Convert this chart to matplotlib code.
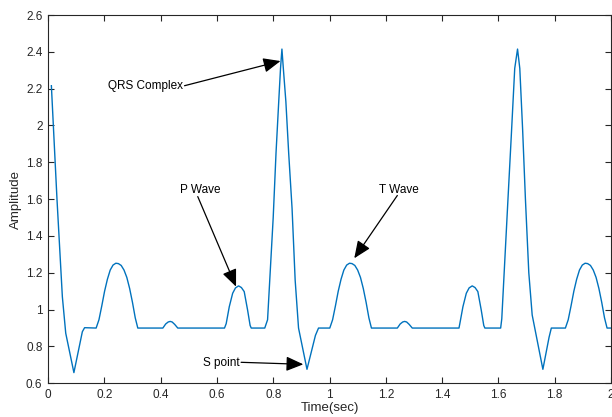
#!/usr/bin/env python3
import matplotlib
matplotlib.use("Agg")
import matplotlib.pyplot as plt

# ECG trace (time in sec, amplitude)
time = [
    0.012, 0.032, 0.051, 0.063, 0.092, 0.122, 0.130, 0.171,
    0.181, 0.191, 0.201, 0.211, 0.221, 0.231, 0.241, 0.250, 0.260, 0.270,
    0.280, 0.290, 0.300, 0.310, 0.319,
    0.408, 0.418, 0.427, 0.434, 0.441, 0.450, 0.461,
    0.627, 0.633, 0.644, 0.656, 0.666, 0.677, 0.687, 0.697, 0.709, 0.718, 0.722,
    0.770, 0.780, 0.800, 0.810, 0.820, 0.826, 0.831, 0.836, 0.845, 0.855,
    0.867, 0.878, 0.890, 0.920, 0.950, 0.961, 1.001,
    1.011, 1.021, 1.031, 1.041, 1.051, 1.061, 1.071, 1.080, 1.090, 1.100,
    1.110, 1.120, 1.130, 1.140, 1.149,
    1.241, 1.251, 1.260, 1.267, 1.274, 1.283, 1.294,
    1.460, 1.463, 1.474, 1.486, 1.496, 1.507, 1.517, 1.527, 1.539, 1.548, 1.552,
    1.608, 1.612, 1.634, 1.646, 1.658, 1.668, 1.676, 1.686, 1.696, 1.708,
    1.720, 1.758, 1.780, 1.788, 1.838,
    1.848, 1.858, 1.868, 1.878, 1.888, 1.898, 1.908, 1.917, 1.927, 1.937,
    1.947, 1.957, 1.967, 1.977, 1.986, 2.000,
]
amplitude = [
    2.216, 1.597, 1.070, 0.872, 0.658, 0.880, 0.902, 0.900,
    0.945, 1.020, 1.100, 1.165, 1.215, 1.242, 1.252, 1.250, 1.240, 1.215,
    1.175, 1.115, 1.040, 0.955, 0.900,
    0.900, 0.922, 0.933, 0.936, 0.933, 0.920, 0.900,
    0.900, 0.924, 1.016, 1.089, 1.118, 1.129, 1.120, 1.098, 0.998, 0.914, 0.900,
    0.900, 0.945, 1.500, 1.850, 2.140, 2.310, 2.415, 2.310, 2.130, 1.850,
    1.550, 1.160, 0.900, 0.676, 0.860, 0.900, 0.900,
    0.945, 1.020, 1.100, 1.165, 1.215, 1.242, 1.252, 1.250, 1.240, 1.215,
    1.175, 1.115, 1.040, 0.955, 0.900,
    0.900, 0.922, 0.933, 0.936, 0.933, 0.920, 0.900,
    0.900, 0.924, 1.016, 1.089, 1.118, 1.129, 1.120, 1.098, 0.998, 0.914, 0.900,
    0.900, 0.950, 1.600, 1.950, 2.310, 2.415, 2.310, 1.980, 1.600, 1.200,
    0.971, 0.676, 0.850, 0.900, 0.900,
    0.945, 1.020, 1.100, 1.165, 1.215, 1.242, 1.252, 1.250, 1.240, 1.215,
    1.175, 1.115, 1.040, 0.955, 0.900, 0.900,
]

x_ticks = [0, 0.2, 0.4, 0.6, 0.8, 1, 1.2, 1.4, 1.6, 1.8, 2]
x_tick_labels = ["0", "0.2", "0.4", "0.6", "0.8", "1", "1.2", "1.4", "1.6", "1.8", "2"]
y_ticks = [0.6, 0.8, 1, 1.2, 1.4, 1.6, 1.8, 2, 2.2, 2.4, 2.6]
y_tick_labels = ["0.6", "0.8", "1", "1.2", "1.4", "1.6", "1.8", "2", "2.2", "2.4", "2.6"]

plt.rcParams['font.family'] = ['Liberation Sans', 'DejaVu Sans']

fig = plt.figure(figsize=(6.12, 4.17), dpi=100)
ax = fig.add_axes([48 / 612, 1 - 383.3 / 417, 563 / 612, 368.3 / 417])

ax.plot(time, amplitude, '-', color='#0072BD', lw=1.0)

ax.set_xlim(0, 2)
ax.set_ylim(0.6, 2.6)
ax.set_xticks(x_ticks)
ax.set_xticklabels(x_tick_labels)
ax.set_yticks(y_ticks)
ax.set_yticklabels(y_tick_labels)
ax.tick_params(direction='in', length=4, width=0.8, colors='#262626', labelsize=8.5,
               top=True, right=True, pad=4)
for s in ax.spines.values():
    s.set_color('#262626')
    s.set_linewidth(0.8)

ax.set_xlabel('Time(sec)', fontsize=9.5, color='#262626')
ax.set_ylabel('Amplitude', fontsize=9.5, color='#262626')
ax.xaxis.set_label_coords(0.5, -0.052)
ax.yaxis.set_label_coords(-0.046, 0.5)

arrow = dict(arrowstyle='-|>,head_length=0.75,head_width=0.32', color='black', lw=0.9,
             mutation_scale=14, shrinkA=0, shrinkB=0)
txt = dict(fontsize=8.5, color='black')

ax.text(0.212, 2.216, 'QRS Complex', ha='left', va='center', **txt)
ax.annotate('', xy=(0.826, 2.35), xytext=(0.485, 2.216), arrowprops=arrow)

ax.text(0.54, 1.651, 'P Wave', ha='center', va='center', **txt)
ax.annotate('', xy=(0.668, 1.125), xytext=(0.532, 1.614), arrowprops=arrow)

ax.text(1.247, 1.651, 'T Wave', ha='center', va='center', **txt)
ax.annotate('', xy=(1.088, 1.279), xytext=(1.241, 1.62), arrowprops=arrow)

ax.text(0.552, 0.709, 'S point', ha='left', va='center', **txt)
ax.annotate('', xy=(0.907, 0.703), xytext=(0.686, 0.714), arrowprops=arrow)

fig.savefig('out.png', dpi=100)
